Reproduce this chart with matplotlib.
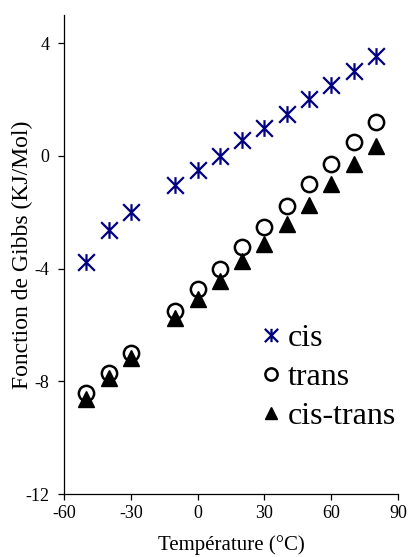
import matplotlib
matplotlib.use("Agg")
import matplotlib.pyplot as plt
from matplotlib.path import Path

plt.rcParams['font.family'] = ['Liberation Serif', 'DejaVu Serif']

temperature = [-50, -40, -30, -10, 0, 10, 20, 30, 40, 50, 60, 70, 80]
g_cis = [-3.78, -2.63, -2.0, -1.02, -0.49, 0.0, 0.55, 0.99, 1.5, 2.01, 2.52, 3.0, 3.54]
g_trans = [-8.41, -7.69, -7.0, -5.5, -4.73, -4.01, -3.22, -2.51, -1.79, -1.0, -0.28, 0.49, 1.2]
g_cis_trans = [-8.64, -7.87, -7.18, -5.74, -5.08, -4.43, -3.72, -3.12, -2.41, -1.73, -0.99, -0.27, 0.37]

xticks = [-60, -30, 0, 30, 60, 90]
yticks = [-12, -8, -4, 0, 4]

# asterisk marker: a cross plus a vertical bar
star = Path([(0, -1), (0, 1), (-1, -1), (1, 1), (-1, 1), (1, -1)],
            [Path.MOVETO, Path.LINETO] * 3)

fig = plt.figure(figsize=(4.10, 5.57), dpi=100)
ax = fig.add_axes([0.156, 0.113, 0.815, 0.86])

ax.plot(temperature, g_cis, linestyle='none', marker=star, markersize=12,
        markeredgecolor='#000080', markeredgewidth=1.6, color='#000080', label='cis')
ax.plot(temperature, g_trans, linestyle='none', marker='o', markersize=11,
        markerfacecolor='white', markeredgecolor='black', markeredgewidth=1.8, label='trans')
ax.plot(temperature, g_cis_trans, linestyle='none', marker='^', markersize=11,
        color='black', label='cis-trans')

ax.set_xlim(-60, 90)
ax.set_ylim(-12, 5)
ax.set_xticks(xticks)
ax.set_yticks(yticks)
ax.set_xticklabels([str(t) for t in xticks])
ax.set_yticklabels([str(t) for t in yticks])
ax.tick_params(direction='out', length=4.5, width=0.9, labelsize=13, colors='black')
ax.tick_params(axis='y', pad=6)
for side in ['top', 'right']:
    ax.spines[side].set_visible(False)
for side in ['left', 'bottom']:
    ax.spines[side].set_linewidth(0.9)

ax.set_xlabel('Température (°C)', fontsize=15)
ax.set_ylabel('Fonction de Gibbs (KJ/Mol)', fontsize=17)
ax.xaxis.set_label_coords(0.5, -0.086)
ax.yaxis.set_label_coords(-0.093, 0.5)

leg = ax.legend(loc='center left', bbox_to_anchor=(0.587, 0.244), frameon=False,
                fontsize=23, handlelength=0.7, handletextpad=0.15,
                labelspacing=0.3, markerscale=0.8, borderaxespad=0, borderpad=0)

fig.savefig('out.png', dpi=100)
